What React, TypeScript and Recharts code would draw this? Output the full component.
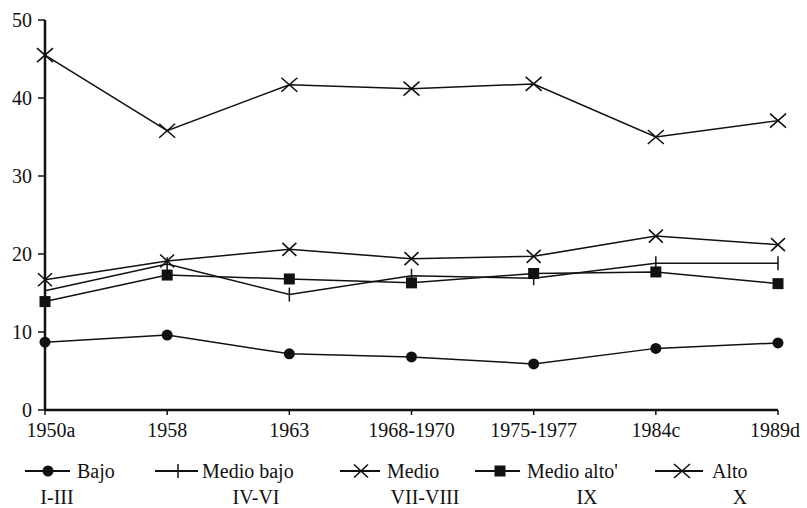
import { LineChart, Line, XAxis, YAxis } from "recharts"

const categories = ["1950a", "1958", "1963", "1968-1970", "1975-1977", "1984c", "1989d"]
const bajo = [8.7, 9.6, 7.2, 6.8, 5.9, 7.9, 8.6]
const medioBajo = [15.3, 18.7, 14.8, 17.2, 16.9, 18.8, 18.8]
const medio = [16.7, 19.1, 20.6, 19.4, 19.7, 22.3, 21.2]
const medioAlto = [13.9, 17.3, 16.8, 16.3, 17.5, 17.7, 16.2]
const alto = [45.5, 35.8, 41.7, 41.2, 41.8, 35.0, 37.1]
const yTicks = [0, 10, 20, 30, 40, 50]
const deciles = ["I-III", "IV-VI", "VII-VIII", "IX", "X"]

const data = categories.map((name, i) => ({
  name,
  bajo: bajo[i],
  medioBajo: medioBajo[i],
  medio: medio[i],
  medioAlto: medioAlto[i],
  alto: alto[i],
}))

const INK = "#111"
const FONT = "Liberation Serif, Times New Roman, DejaVu Serif, serif"

type Shape = "circle" | "plus" | "cross" | "square" | "bigcross"

function marker(shape: Shape, x: number, y: number, key?: string) {
  if (shape === "circle") return <circle key={key} cx={x} cy={y} r={5.5} fill={INK} />
  if (shape === "square") return <rect key={key} x={x - 5.5} y={y - 5.5} width={11} height={11} fill={INK} />
  if (shape === "plus")
    return <line key={key} x1={x} y1={y - 7} x2={x} y2={y + 7} stroke={INK} strokeWidth={1.5} />
  const w = shape === "bigcross" ? 8 : 7
  const h = shape === "bigcross" ? 7 : 6.5
  return (
    <g key={key}>
      <line x1={x - w} y1={y - h} x2={x + w} y2={y + h} stroke={INK} strokeWidth={1.6} />
      <line x1={x - w} y1={y + h} x2={x + w} y2={y - h} stroke={INK} strokeWidth={1.6} />
    </g>
  )
}

const dotFor = (shape: Shape) => (props: any) => marker(shape, props.cx, props.cy, `${shape}-${props.index}`)

const series: { key: string; label: string; shape: Shape; line: [number, number]; mx: number; tx: number }[] = [
  { key: "bajo", label: "Bajo", shape: "circle", line: [25, 70], mx: 48, tx: 77 },
  { key: "medioBajo", label: "Medio bajo", shape: "plus", line: [155, 198], mx: 178, tx: 202 },
  { key: "medio", label: "Medio", shape: "cross", line: [340, 380], mx: 361, tx: 387 },
  { key: "medioAlto", label: "Medio alto'", shape: "square", line: [475, 520], mx: 500, tx: 527 },
  { key: "alto", label: "Alto", shape: "bigcross", line: [655, 703], mx: 682, tx: 712 },
]
const decileX = [57, 256, 425, 587, 740]

// first label sits a bit right of the axis in the original, the last a bit left
const XTick = (props: any) => {
  const { x, y, payload, index } = props
  const shift = index === 0 ? 6 : index === categories.length - 1 ? -3 : 0
  return (
    <text x={x + shift} y={y} dy="0.71em" textAnchor="middle" fill={INK} fontSize={20} style={{ fontFamily: FONT }}>
      {payload.value}
    </text>
  )
}

const yTickStyle = { fill: INK, fontSize: 20, fontFamily: FONT, style: { fontFamily: FONT } }

export default function App() {
  return (
    <div style={{ position: "absolute", left: 0, top: 0, width: 807, height: 508, background: "#fff", fontFamily: FONT }}>
      <LineChart
        width={807}
        height={508}
        data={data}
        margin={{ top: 20, right: 29, left: 0, bottom: 68 }}
        style={{ fontFamily: FONT }}
      >
        <XAxis
          dataKey="name"
          height={30}
          interval={0}
          tickSize={5}
          tickMargin={8}
          axisLine={{ stroke: INK, strokeWidth: 2.5 }}
          tickLine={{ stroke: INK, strokeWidth: 1.5 }}
          tick={<XTick />}
        />
        <YAxis
          width={45}
          domain={[0, 50]}
          ticks={yTicks}
          interval={0}
          tickSize={7}
          tickMargin={6}
          axisLine={{ stroke: INK, strokeWidth: 2.5 }}
          tickLine={{ stroke: INK, strokeWidth: 1.5 }}
          tick={yTickStyle}
        />
        {series.map((s) => (
          <Line
            key={s.key}
            dataKey={s.key}
            type="linear"
            stroke={INK}
            strokeWidth={1.5}
            dot={dotFor(s.shape)}
            activeDot={false}
            isAnimationActive={false}
          />
        ))}
      </LineChart>
      <svg width={807} height={60} style={{ position: "absolute", left: 0, top: 448, fontFamily: FONT }}>
        {series.map((s) => (
          <g key={s.key}>
            <line x1={s.line[0]} y1={23} x2={s.line[1]} y2={23} stroke={INK} strokeWidth={2} />
            {marker(s.shape, s.mx, 23)}
            <text x={s.tx} y={30} fill={INK} fontSize={20} style={{ fontFamily: FONT }}>
              {s.label}
            </text>
          </g>
        ))}
        {deciles.map((d, i) => (
          <text key={d} x={decileX[i]} y={56} fill={INK} fontSize={20} textAnchor="middle" style={{ fontFamily: FONT }}>
            {d}
          </text>
        ))}
      </svg>
    </div>
  )
}
